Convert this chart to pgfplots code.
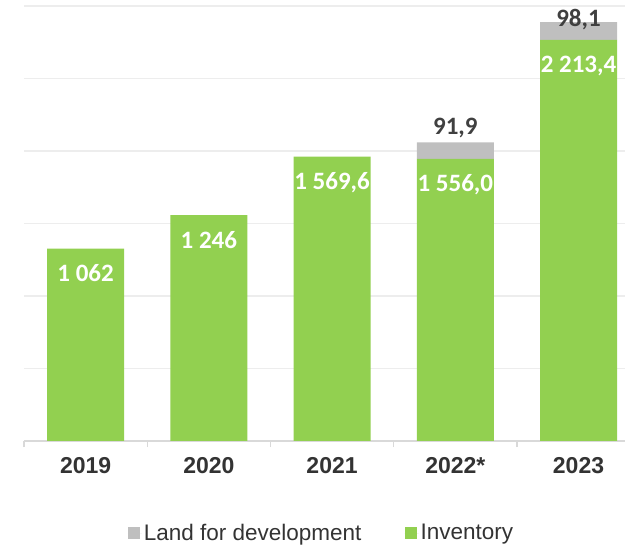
\documentclass[border=0pt]{standalone}
\usepackage{fontspec}
\setmainfont{Liberation Sans}
\newfontfamily\carlito{Carlito}
\usepackage{pgfplots}
\usepackage{pgfplotstable}
\pgfplotsset{compat=1.18}
\usetikzlibrary{calc}
\definecolor{invgreen}{HTML}{92D050}
\definecolor{landgray}{HTML}{BFBFBF}
\definecolor{axisgray}{HTML}{D9D9D9}
\definecolor{gridgray}{HTML}{EDEDED}
\definecolor{labeldark}{HTML}{333333}
\definecolor{valdark}{HTML}{404040}

% inventory (bottom of the stack)
\pgfplotstableread{
x y label
0 1062 {1 062}
1 1246 {1 246}
2 1569.6 {1 569,6}
3 1556.0 {1 556,0}
4 2213.4 {2 213,4}
}\invtable

% land for development, stacked on top; dy = label offset from segment top
\pgfplotstableread{
x y dy label
0 0 0 {}
1 0 0 {}
2 0 0 {}
3 91.9 8 {91,9}
4 98.1 -4 {98,1}
}\landtable

\begin{document}
\begin{tikzpicture}
\begin{axis}[
  scale only axis,
  width=601pt, height=435pt,
  ybar stacked,
  bar width=77pt,
  xmin=-0.5, xmax=4.377,
  ymin=0, ymax=2400,
  axis x line*=bottom, axis y line*=left,
  y axis line style={draw=none},
  x axis line style={draw=axisgray, line width=1.5pt},
  ytick={400,800,...,2400}, yticklabels={},
  ytick style={draw=none},
  ymajorgrids,
  grid style={gridgray, line width=1.2pt},
  xtick={0,1,2,3,4},
  xticklabels={2019,2020,2021,2022*,2023},
  minor xtick={-0.5,0.5,1.5,2.5,3.5},
  minor tick style={draw=axisgray, line width=1.2pt},
  major tick length=0pt,
  minor tick length=6pt,
  tick align=outside,
  xticklabel style={font=\fontsize{23}{27}\selectfont\bfseries, text=labeldark, yshift=-13pt},
  legend columns=2,
  reverse legend,
  legend style={at={(0.495,-0.2115)}, anchor=center, draw=none, fill=none,
    font=\fontsize{22.5}{26}\selectfont, text=labeldark,
    /tikz/every even column/.append style={column sep=41pt}},
  legend image code/.code={\fill[#1] (0pt,-6pt) rectangle (12pt,6pt); \path (0pt,0pt) -- (14pt,0pt);},
]
% nodes near coords sit at the middle of each stacked segment: shift by half its height
\addplot[fill=invgreen, draw=none,
  nodes near coords, point meta=explicit symbolic,
  visualization depends on={\thisrow{y} \as \yv},
  every node near coord/.append style={font=\carlito\fontsize{25}{29}\selectfont\bfseries,
    text=white, anchor=base, yshift={\yv*0.090625pt-33pt}, inner sep=0pt}]
  table[x=x, y=y, meta=label] {\invtable};
\addlegendentry{Inventory}
\addplot[fill=landgray, draw=none,
  nodes near coords, point meta=explicit symbolic,
  visualization depends on={\thisrow{y} \as \yv},
  visualization depends on={\thisrow{dy} \as \dy},
  every node near coord/.append style={font=\carlito\fontsize{25}{29}\selectfont\bfseries,
    text=valdark, anchor=base, yshift={\yv*0.090625pt+\dy pt}, inner sep=0pt}]
  table[x=x, y=y, meta=label] {\landtable};
\addlegendentry{Land for development}
\end{axis}
\pgfresetboundingbox
\path ($(current axis.south west)+(-24pt,-108pt)$) rectangle ($(current axis.north east)+(0pt,6pt)$);
\end{tikzpicture}
\end{document}
